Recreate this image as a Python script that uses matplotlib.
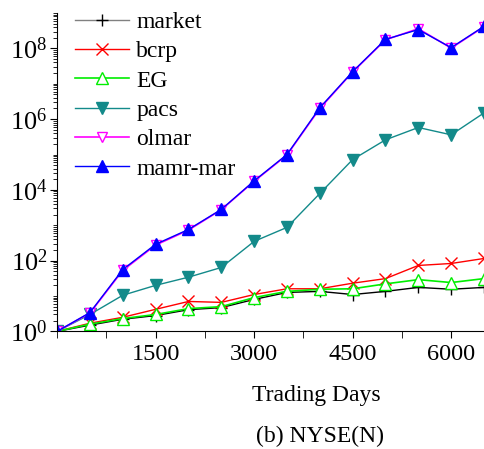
import matplotlib.pyplot as plt
import numpy as np
from matplotlib.ticker import LogLocator, NullFormatter, MultipleLocator

plt.rcParams['font.family'] = ['Liberation Serif', 'DejaVu Serif']
plt.rcParams['mathtext.fontset'] = 'stix'

days = [0, 500, 1000, 1500, 2000, 2500, 3000, 3500, 4000, 4500, 5000, 5500, 6000, 6500]

market = [1, 1.5, 2.2, 2.8, 4.1, 4.7, 8, 12.6, 13.5, 11, 13.5, 17.5, 15.5, 17.5]
bcrp = [1, 1.7, 2.5, 4.2, 7, 6.6, 11, 16, 16, 23, 31, 73, 83, 115]
eg = [1, 1.6, 2.3, 3.0, 4.4, 5.0, 9, 13.5, 15.5, 16, 22, 29, 24, 31]
pacs = [1, 3.0, 10.5, 20, 34, 64, 350, 870, 7900, 7.2e4, 2.6e5, 5.8e5, 3.6e5, 1.5e6]
olmar = [1, 3.3, 53, 275, 730, 2750, 1.75e4, 9.7e4, 2.0e6, 2.15e7, 1.75e8, 3.6e8, 1.02e8, 4.1e8]
mamr = [1, 3.4, 56, 290, 760, 2800, 1.8e4, 1.0e5, 2.1e6, 2.2e7, 1.8e8, 3.4e8, 1.05e8, 4.2e8]

fig = plt.figure(figsize=(4.84, 4.49), dpi=100)
ax = fig.add_axes([0.118, 0.262, 0.882, 0.709])

ax.plot(days, market, color='black', marker='+', ms=8, lw=1, label='market')
ax.plot(days, bcrp, color='red', marker='x', ms=8, mew=1, lw=1, label='bcrp')
ax.plot(days, eg, color='#00ee00', marker='^', ms=8, mfc='white', mec='#00ee00', mew=1, lw=1.2, label='EG')
ax.plot(days, pacs, color='#138a8a', marker='v', ms=9, lw=1, label='pacs')
ax.plot(days, olmar, color='magenta', marker='v', ms=7.5, mfc='white', mec='magenta', lw=1.2, label='olmar')
ax.plot(days, mamr, color='blue', marker='^', ms=9, lw=1, label='mamr-mar')

ax.set_yscale('log')
ax.set_ylim(1, 1e9)
ax.set_xlim(0, 6500)
ax.yaxis.set_major_locator(LogLocator(base=100))
ax.yaxis.set_minor_locator(LogLocator(base=10, subs=np.arange(1, 10), numticks=100))
ax.yaxis.set_minor_formatter(NullFormatter())
ax.xaxis.set_minor_locator(MultipleLocator(750))
ax.set_xticks([1500, 3000, 4500, 6000])

ax.spines['top'].set_visible(False)
ax.spines['right'].set_visible(False)
ax.tick_params(which='major', direction='out', length=5)
ax.tick_params(which='minor', direction='out', length=3)
ax.tick_params(axis='x', which='minor', length=5)
ax.tick_params(axis='x', labelsize=17.5, pad=4)
ax.tick_params(axis='y', labelsize=19, pad=2)

ax.set_xlabel('Trading Days', fontsize=17)
ax.xaxis.set_label_coords(0.607, -0.17)
fig.text(0.661, 0.027, '(b) NYSE(N)', fontsize=17, ha='center', va='center')

leg = ax.legend(loc='upper left', frameon=False, fontsize=17, handlelength=2.3,
                handletextpad=0.3, labelspacing=0.33, borderaxespad=0.0,
                borderpad=0.0, bbox_to_anchor=(0.042, 1.005))
leg.get_lines()[0].set_color('gray')
leg.get_lines()[0].set_markeredgecolor('black')

fig.savefig('out.png', dpi=100)
